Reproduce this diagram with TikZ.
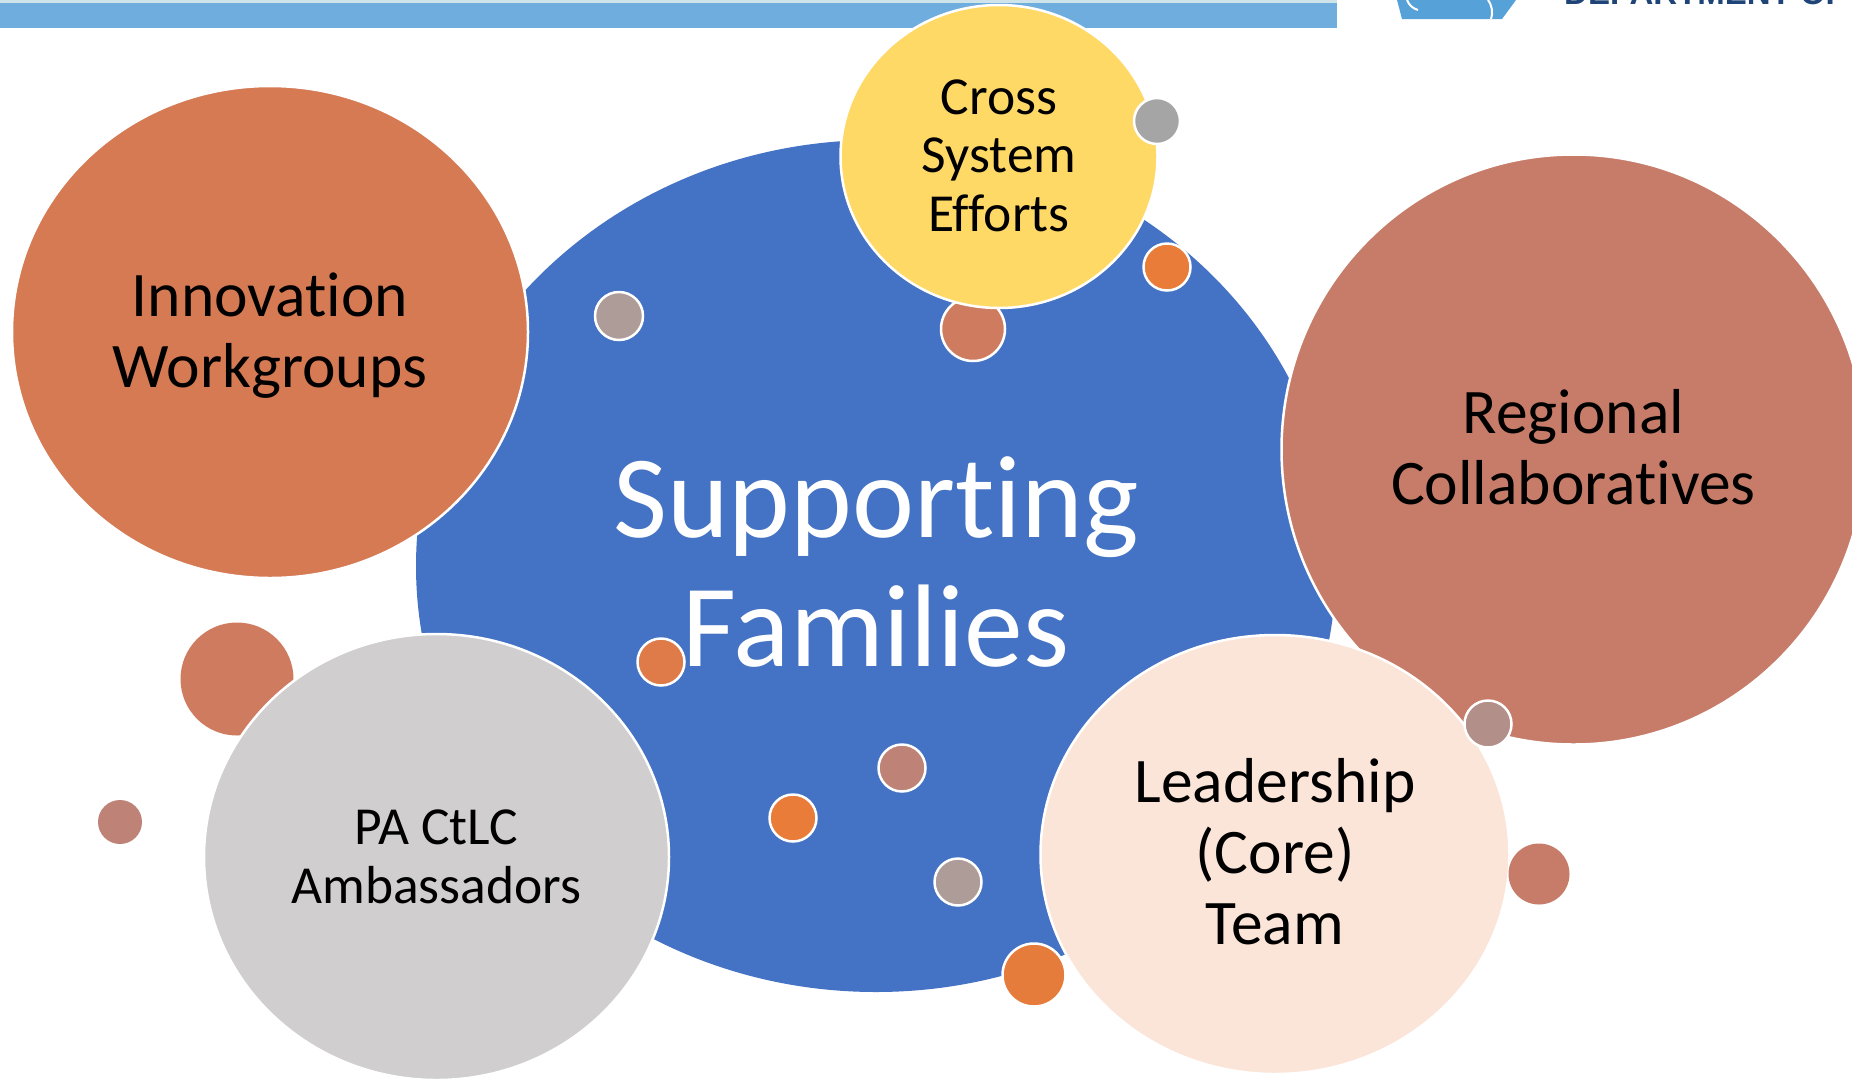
\documentclass[tikz,border=0pt]{standalone}
\usepackage{fontspec}
\setmainfont{Carlito}[RawFeature=-liga]
\newfontfamily\logofont{Liberation Sans}
\usetikzlibrary{shapes.geometric}
\definecolor{barblue}{HTML}{70ADDF}
\definecolor{barpale}{HTML}{CFE4EA}
\definecolor{logoblue}{HTML}{57A1D9}
\definecolor{logonavy}{HTML}{1F4477}
\definecolor{mainblue}{HTML}{4472C4}
\definecolor{innorange}{HTML}{D67A54}
\definecolor{crossyellow}{HTML}{FFD966}
\definecolor{regionbrown}{HTML}{C67C68}
\definecolor{leadpeach}{HTML}{FBE5D8}
\definecolor{ambgray}{HTML}{D0CECE}
\definecolor{dotsalmon}{HTML}{CE7B5F}
\definecolor{dotrose}{HTML}{BE8276}
\definecolor{dotgray}{HTML}{A5A5A5}
\definecolor{dotstone}{HTML}{AE9C99}
\definecolor{dotorange}{HTML}{E97C38}
\definecolor{dotmauve}{HTML}{B28F88}
\tikzset{
  bubble/.style = {ellipse, inner sep=0pt, outer sep=0pt, draw=white, line width=2.5pt},
  % texts on the bubbles
  text_M/.style = {align=center, inner sep=0pt, text=white, font=\fontsize{117.5}{129}\selectfont},
  text_A/.style = {align=center, inner sep=0pt, text=black, font=\fontsize{63.5}{71}\selectfont},
  text_B/.style = {align=center, inner sep=0pt, text=black, font=\fontsize{53.5}{58.5}\selectfont},
  % small dots, with or without a white rim
  dot_W/.style = {circle, inner sep=0pt, outer sep=0pt, draw=white, line width=2.5pt},
  dot_N/.style = {circle, inner sep=0pt, outer sep=0pt}
}

\begin{document}
\begin{tikzpicture}[x=1pt,y=-1pt]
    \useasboundingbox (0,0) rectangle (1852,1080);
    \clip (0,0) rectangle (1852,1080);
    % Top bar:
    \fill [barblue] (0,3) rectangle (1337,28);
    \fill [barpale] (0,0) rectangle (1337,3);
    % Logo, cut by the page:
    \fill [logoblue] (1397,0) -- (1402,19) -- (1502,19) -- (1516,0) -- cycle;
    \draw [white, line width=2pt] (1407,0) to[bend right=25] (1418,10);
    \draw [white, line width=2pt] (1488,0) to[bend left=25] (1491,19);
    \begin{scope}
      \clip (1550,0) rectangle (1852,12);
      \node (dept) [anchor=base west, inner sep=0pt, text=logonavy, font=\logofont\bfseries\fontsize{33}{33}\selectfont] at (1564,4) {DEPARTMENT OF};
    \end{scope}
    % Root node:
    \node (main) [ellipse, inner sep=0pt, outer sep=0pt, fill=mainblue, minimum width=920pt, minimum height=852pt,
      label={[text_M, yshift=4.5pt]center:{Supporting\\Families}}] at (876,566) {};
    % Dots behind the bubbles:
    \node (dot_salmon) [dot_N, fill=dotsalmon, minimum size=113pt] at (237,679) {};
    \node (dot_top) [dot_W, fill=dotsalmon, minimum size=64pt] at (973,329) {};
    % Bubbles:
    \node (innovation) [bubble, fill=innorange, minimum width=516pt, minimum height=492pt,
      label={[text_A, yshift=-3.5pt]center:{Innovation\\Workgroups}}] at (270,332) {};
    \node (cross) [bubble, fill=crossyellow, minimum width=317pt, minimum height=303pt,
      label={[text_B, yshift=1pt]center:{Cross\\System\\Efforts}}] at (999,156.5) {};
    \node (regional) [bubble, fill=regionbrown, minimum width=584pt, minimum height=590pt,
      label={[text_A, yshift=2.5pt]center:{Regional\\Collaboratives}}] at (1573.5,449.5) {};
    \node (leadership) [bubble, fill=leadpeach, minimum width=469pt, minimum height=439pt,
      label={[text_A, yshift=2.5pt]center:{Leadership\\(Core)\\Team}}] at (1275,854.5) {};
    \node (ambassadors) [bubble, fill=ambgray, minimum width=465pt, minimum height=446pt,
      label={[text_B]center:{PA CtLC\\Ambassadors}}] at (436.5,857) {};
    % Dots in front:
    \node (dot_far) [dot_N, fill=dotrose, minimum size=44pt] at (120,822) {};
    \node (dot_stone) [dot_W, fill=dotstone, minimum size=48pt] at (619,316) {};
    \node (dot_gray) [dot_W, fill=dotgray, minimum size=46pt] at (1157,121) {};
    \node (dot_orange_a) [dot_W, fill=dotorange, minimum size=47pt] at (1167,267) {};
    \node (dot_orange_b) [dot_W, fill=innorange!60!dotorange, minimum size=47pt] at (661,662) {};
    \node (dot_rose) [dot_W, fill=dotrose, minimum size=47pt] at (902,768) {};
    \node (dot_orange_c) [dot_W, fill=dotorange, minimum size=47pt] at (793,818) {};
    \node (dot_mauve_a) [dot_W, fill=dotstone, minimum size=47pt] at (958,882) {};
    \node (dot_orange_d) [dot_W, fill=dotorange!85!innorange, minimum size=63pt] at (1034,975) {};
    \node (dot_mauve_b) [dot_W, fill=dotmauve, minimum size=47pt] at (1488,724) {};
    \node (dot_right) [dot_N, fill=regionbrown, minimum size=61pt] at (1539,874) {};
\end{tikzpicture}
\end{document}
